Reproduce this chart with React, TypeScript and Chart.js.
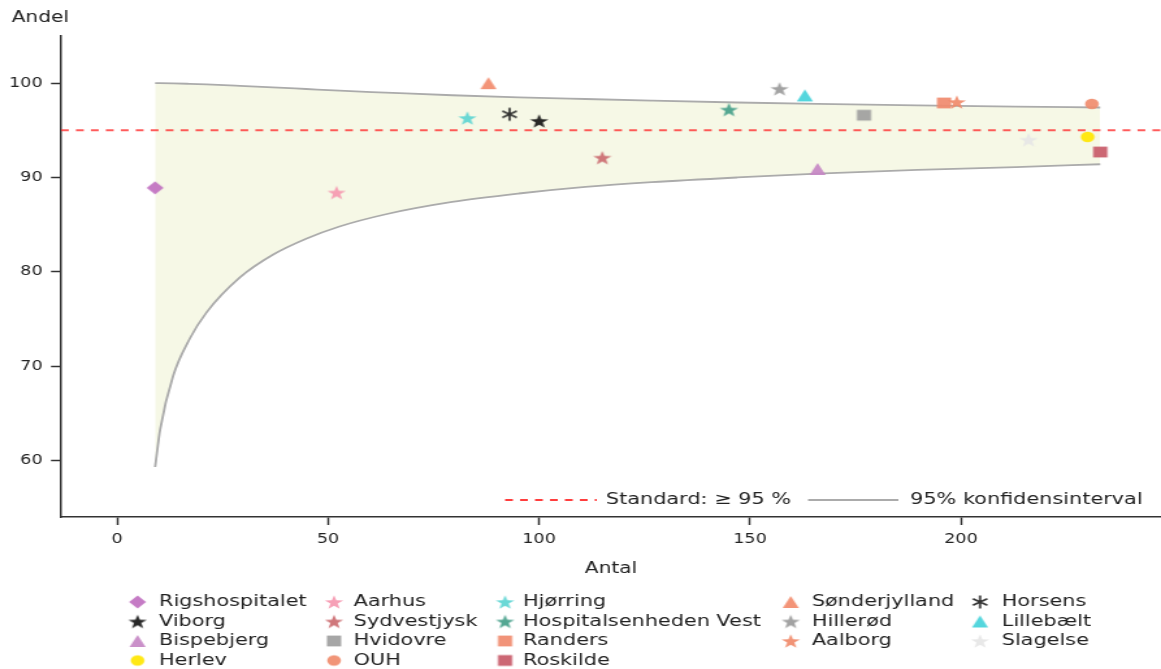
import React, { useEffect, useRef } from 'react';
import { Chart, registerables } from 'chart.js';

Chart.register(...registerables);

// ---------- data ----------
const hospitals = [
  'Rigshospitalet', 'Viborg', 'Bispebjerg', 'Herlev',
  'Aarhus', 'Sydvestjysk', 'Hvidovre', 'OUH',
  'Hjørring', 'Hospitalsenheden Vest', 'Randers', 'Roskilde',
  'Sønderjylland', 'Hillerød', 'Aalborg',
  'Horsens', 'Lillebælt', 'Slagelse',
];
const antal = [9, 100, 166, 230, 52, 115, 177, 231, 83, 145, 196, 233, 88, 157, 199, 93, 163, 216];
const andel = [88.9, 96.0, 90.9, 94.3, 88.4, 92.1, 96.6, 97.8, 96.3, 97.2, 97.9, 92.7, 100.0, 99.4, 98.0, 96.7, 98.7, 94.0];
const markerShapes = [
  'diamond', 'star', 'triangle', 'circle',
  'star', 'star', 'square', 'circle',
  'star', 'star', 'square', 'square',
  'triangle', 'star', 'star',
  'asterisk', 'triangle', 'star',
];
const markerColors = [
  '#C070C0', '#151515', '#C687C4', '#FFE600',
  '#F598B0', '#CB6B70', '#9E9E9E', '#F08C6C',
  '#5DD5D3', '#45A08A', '#F08A6E', '#C85A68',
  '#F28B6C', '#9A9A9A', '#F08A6A',
  '#222222', '#45D2DA', '#E6E6E6',
];
const legendColumns = [4, 4, 4, 3, 3];

const ciAntal = [9, 10.2, 13.3, 17.2, 21.2, 29.1, 36.9, 44.8, 52.7, 63.7, 79.4, 95.2, 111, 126.7, 147, 166, 189.7, 213, 233];
const ciLower = [59.3, 63.3, 69.0, 72.9, 75.7, 79.4, 81.8, 83.5, 84.8, 86.1, 87.4, 88.3, 89.0, 89.5, 90.0, 90.4, 90.8, 91.1, 91.4];
const ciUpper = [100, 100, 99.98, 99.93, 99.87, 99.72, 99.56, 99.38, 99.2, 99.0, 98.72, 98.5, 98.32, 98.15, 97.95, 97.8, 97.65, 97.52, 97.42];

const standardValue = 95;
const xTicks = [0, 50, 100, 150, 200];
const yTicks = [60, 70, 80, 90, 100];
const X_MIN = -13.3;
const X_MAX = 247.4;
const Y_MIN = 54;
const Y_MAX = 105;

const labelStandard = 'Standard: ≥ 95 %';
const labelCI = '95% konfidensinterval';
const xTitle = 'Antal';
const yTitle = 'Andel';

// ---------- layout ----------
const STRETCH = 1.3;
const OUT_W = 1161;
const OUT_H = 669;
const CW = Math.round(OUT_W / STRETCH);
const FONT = "'DejaVu Sans', sans-serif";
const FILL_COLOR = '#F6F8E6';
const CI_COLOR = '#ABABAB';
const STD_COLOR = 'rgba(255,50,50,0.8)';

function makeMarker(shape: string, color: string): HTMLCanvasElement {
  const s = 20;
  const c = document.createElement('canvas');
  c.width = s;
  c.height = s;
  const g = c.getContext('2d')!;
  const m = s / 2;
  g.fillStyle = color;
  g.strokeStyle = color;
  g.globalAlpha = 0.92;
  g.beginPath();
  if (shape === 'diamond') {
    const d = 6.5;
    g.moveTo(m, m - d); g.lineTo(m + d, m); g.lineTo(m, m + d); g.lineTo(m - d, m); g.closePath(); g.fill();
  } else if (shape === 'star') {
    const R = 7.4, r = R * 0.4;
    for (let i = 0; i < 10; i++) {
      const a = -Math.PI / 2 + (i * Math.PI) / 5;
      const rr = i % 2 === 0 ? R : r;
      const px = m + rr * Math.cos(a), py = m + 0.7 + rr * Math.sin(a);
      if (i === 0) g.moveTo(px, py); else g.lineTo(px, py);
    }
    g.closePath(); g.fill();
  } else if (shape === 'triangle') {
    g.moveTo(m, m - 6); g.lineTo(m + 6.2, m + 6); g.lineTo(m - 6.2, m + 6); g.closePath(); g.fill();
  } else if (shape === 'circle') {
    g.arc(m, m, 5.3, 0, Math.PI * 2); g.fill();
  } else if (shape === 'square') {
    g.rect(m - 5.5, m - 5.4, 11, 10.8); g.fill();
  } else if (shape === 'asterisk') {
    g.lineWidth = 1.7;
    const L = 6.4;
    for (let k = 0; k < 3; k++) {
      const a = -Math.PI / 2 + (k * Math.PI) / 3;
      g.moveTo(m + L * Math.cos(a), m + L * Math.sin(a));
      g.lineTo(m - L * Math.cos(a), m - L * Math.sin(a));
    }
    g.stroke();
  }
  return c;
}

export default function App() {
  const ref = useRef<HTMLCanvasElement | null>(null);

  useEffect(() => {
    document.body.style.margin = '0';
    const canvas = ref.current!;
    const markers = markerShapes.map((s, i) => makeMarker(s, markerColors[i]));

    const pointSets = hospitals.map((h, i) => ({
      type: 'scatter' as const,
      label: h,
      data: [{ x: antal[i], y: andel[i] }],
      pointStyle: markers[i],
      pointRadius: 7,
      pointHoverRadius: 7,
      borderWidth: 0,
    }));

    const extra: any[] = [
      {
        type: 'line',
        label: labelStandard,
        data: [{ x: X_MIN, y: standardValue }, { x: X_MAX, y: standardValue }],
        borderColor: STD_COLOR,
        borderWidth: 2,
        borderDash: [6, 5.5],
        pointRadius: 0,
        fill: false,
      },
      {
        type: 'line',
        label: 'lower',
        data: ciAntal.map((n, i) => ({ x: n, y: ciLower[i] })),
        borderColor: CI_COLOR,
        borderWidth: 1.8,
        pointRadius: 0,
        cubicInterpolationMode: 'monotone',
        fill: false,
      },
      {
        type: 'line',
        label: labelCI,
        data: ciAntal.map((n, i) => ({ x: n, y: ciUpper[i] })),
        borderColor: CI_COLOR,
        borderWidth: 1.8,
        pointRadius: 0,
        cubicInterpolationMode: 'monotone',
        fill: '-1',
        backgroundColor: FILL_COLOR,
      },
    ];

    const customDraw = {
      id: 'customDraw',
      afterDraw(chart: any) {
        const ctx = chart.ctx as CanvasRenderingContext2D;
        ctx.save();
        ctx.fillStyle = '#222';
        ctx.font = `15.5px ${FONT}`;
        ctx.textBaseline = 'alphabetic';
        ctx.textAlign = 'left';
        ctx.fillText(yTitle, 9, 21.7);
        ctx.textAlign = 'center';
        const ca = chart.chartArea;
        ctx.fillText(xTitle, (ca.left + ca.right) / 2, 573);

        ctx.font = `16px ${FONT}`;
        ctx.textAlign = 'left';
        ctx.textBaseline = 'middle';
        const ly = 500;
        ctx.strokeStyle = 'rgba(255,40,40,0.9)';
        ctx.lineWidth = 2;
        ctx.setLineDash([6, 5.5]);
        ctx.beginPath(); ctx.moveTo(388.5, ly); ctx.lineTo(459, ly); ctx.stroke();
        ctx.setLineDash([]);
        ctx.fillText(labelStandard, 466, ly);
        ctx.strokeStyle = CI_COLOR;
        ctx.lineWidth = 1.8;
        ctx.beginPath(); ctx.moveTo(621.5, ly); ctx.lineTo(691, ly); ctx.stroke();
        ctx.fillText(labelCI, 700, ly);

        const markerX = [105.8, 256.9, 388.5, 608.2, 753.8];
        const textX = [122.3, 272, 402.3, 624.4, 770.5];
        const rowY = [602, 621.5, 641, 660.5];
        let idx = 0;
        legendColumns.forEach((count, col) => {
          for (let r = 0; r < count; r++) {
            const img = markers[idx];
            ctx.drawImage(img, markerX[col] - img.width / 2, rowY[r] - img.height / 2);
            ctx.fillStyle = '#222';
            ctx.fillText(hospitals[idx], textX[col], rowY[r]);
            idx++;
          }
        });
        ctx.restore();
      },
    };

    const chart = new Chart(canvas, {
      type: 'scatter',
      data: { datasets: [...pointSets, ...extra] as any },
      options: {
        animation: false,
        responsive: false,
        devicePixelRatio: 1,
        layout: { autoPadding: false, padding: { top: 36, right: 0, bottom: 0, left: 0 } },
        plugins: {
          legend: { display: false },
          tooltip: { enabled: false },
        },
        scales: {
          x: {
            type: 'linear',
            min: X_MIN,
            max: X_MAX,
            afterFit: (s: any) => { s.height = OUT_H - 517; },
            afterBuildTicks: (s: any) => { s.ticks = xTicks.map((v) => ({ value: v })); },
            grid: { drawOnChartArea: false, drawTicks: true, tickLength: 8, tickWidth: 1.5, tickColor: '#333' },
            border: { display: true, color: '#333', width: 1.5 },
            ticks: { font: { family: FONT, size: 13.5 }, color: '#222', padding: 6, maxRotation: 0, autoSkip: false },
          },
          y: {
            type: 'linear',
            min: Y_MIN,
            max: Y_MAX,
            afterFit: (s: any) => { s.width = 61 / STRETCH; },
            afterBuildTicks: (s: any) => { s.ticks = yTicks.map((v) => ({ value: v })); },
            grid: { drawOnChartArea: false, drawTicks: true, tickLength: 7.7, tickWidth: 1.5, tickColor: '#333' },
            border: { display: true, color: '#333', width: 1.5 },
            ticks: { font: { family: FONT, size: 13.5 }, color: '#222', padding: 6.5, autoSkip: false },
          },
        },
      },
      plugins: [customDraw],
    } as any);

    return () => chart.destroy();
  }, []);

  return (
    <canvas
      ref={ref}
      width={CW}
      height={OUT_H}
      style={{ width: OUT_W + 'px', height: OUT_H + 'px', display: 'block' }}
    />
  );
}
